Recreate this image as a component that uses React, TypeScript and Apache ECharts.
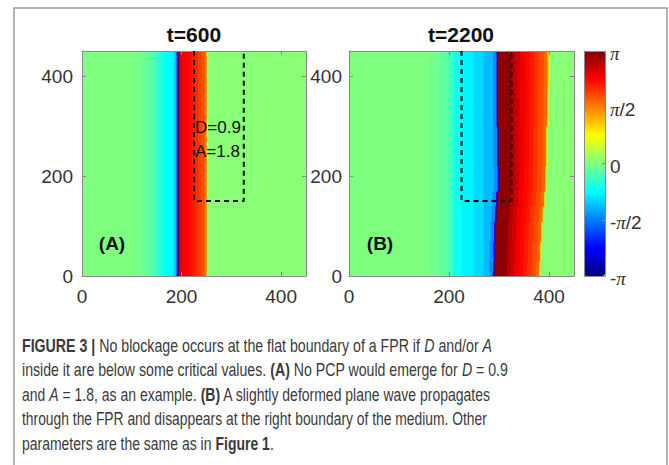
import React, { useEffect, useRef } from 'react';
import * as echarts from 'echarts';

const PI = Math.PI;

// ---------- DATA (phase values, radians) ----------
// Panel A (t=600): vertical stripes [x0, x1, phase], identical for every row
const A_STRIPES: number[][] = [
  [0, 106, 0],
  [106, 118, -0.06],
  [118, 130, -0.12],
  [130, 143, -0.22],
  [143, 151, -0.36],
  [151, 158, -0.5],
  [158, 166, -0.65],
  [166, 183, -0.8],
  [183, 188, -1.0],
  [188, 190.5, -1.5],
  [190.5, 192.5, -2.2],
  [192.5, 194, -2.8],
  [194, 199, 2.65],
  [199, 205, 2.45],
  [205, 212, 2.38],
  [212, 220, 2.3],
  [220, 227, 2.2],
  [227, 233, 2.1],
  [233, 240, 1.98],
  [240, 247, 1.85],
  [247, 251, 1.5],
  [251, 253, 0.8],
  [253, 450, 0.06],
];

// Panel B (t=2200): rows [y0, y1, front x, right edge x]
const B_ROWS: number[][] = [
  [0, 30, 291, 383],
  [30, 70, 292, 385],
  [70, 110, 293, 387],
  [110, 140, 295, 390],
  [140, 170, 297, 393],
  [170, 220, 300, 395],
  [220, 300, 299, 397],
  [300, 380, 298, 399],
  [380, 450, 298, 400],
];
// left (unperturbed) part of panel B: [x0, x1, phase]
const B_LEFT: number[][] = [
  [0, 160, 0],
  [160, 182, -0.08],
  [182, 199, -0.2],
  [199, 209, -0.4],
  [209, 226, -0.7],
  [226, 249, -0.85],
  [249, 269, -1.0],
];
// blue tail just behind the front: [offset before front (from), (to), phase]
const B_TAIL: number[][] = [
  [-1, 10, -1.2],
  [10, 3, -1.5],
  [3, 0, -2.5],
];
// red wave body between front and right edge: [fraction from, fraction to, phase]
const B_BODY: number[][] = [
  [0, 0.27, 3.05],
  [0.27, 0.35, 2.8],
  [0.35, 0.43, 2.65],
  [0.43, 0.53, 2.45],
  [0.53, 0.62, 2.32],
  [0.62, 0.71, 2.2],
  [0.71, 0.8, 2.05],
  [0.8, 0.9, 1.9],
  [0.9, 0.97, 1.72],
  [0.97, 1.0, 1.0],
];
const B_RIGHT_PHASE = 0.06;

// FPR outline (dashed)
const FPR_OUTLINE: number[][] = [
  [225, 450],
  [225, 150],
  [325, 150],
  [325, 450],
];

const X_TICKS = [0, 200, 400];
const CBAR_LABELS = ['-π', '-π/2', '0', 'π/2', 'π'];
const JET = ['#00007F', '#0000FF', '#007FFF', '#00FFFF', '#7FFF7F', '#FFFF00', '#FF7F00', '#FF0000', '#7F0000'];

const TITLES = ['t=600', 't=2200'];
const PANEL_LABELS = ['(A)', '(B)'];
const ANNOT = ['D=0.9', 'A=1.8'];

type Seg = [string, string];
const CAPTION_LINES: Seg[][] = [
  [['b', 'FIGURE 3 |'], ['n', ' No blockage occurs at the flat boundary of a FPR if '], ['i', 'D'], ['n', ' and/or '], ['i', 'A']],
  [['n', 'inside it are below some critical values. '], ['b', '(A)'], ['n', ' No PCP would emerge for '], ['i', 'D'], ['n', ' = 0.9']],
  [['n', 'and '], ['i', 'A'], ['n', ' = 1.8, as an example. '], ['b', '(B)'], ['n', ' A slightly deformed plane wave propagates']],
  [['n', 'through the FPR and disappears at the right boundary of the medium. Other']],
  [['n', 'parameters are the same as in '], ['b', 'Figure 1'], ['n', '.']],
];

// ---------- LAYOUT ----------
const FONT = '"Liberation Sans", Arial, Helvetica, sans-serif';
const CAP_FONT_SIZE = 18.5;
const CAP_LEFT = 22;
const CAP_RIGHT = [492, 508, 492, 487, 274];
const CAP_Y = [345, 369.5, 394, 418.5, 443];

function buildA(): number[][] {
  return A_STRIPES.map(([x0, x1, v]) => [x0, x1, 0, 450, v]);
}

function buildB(): number[][] {
  const out: number[][] = [];
  B_ROWS.forEach(([y0, y1, f, e]) => {
    B_LEFT.forEach(([x0, x1, v]) => out.push([x0, x1, y0, y1, v]));
    B_TAIL.forEach(([a, b, v]) => {
      const x0 = a < 0 ? B_LEFT[B_LEFT.length - 1][1] : f - a;
      out.push([x0, f - b, y0, y1, v]);
    });
    B_BODY.forEach(([a, b, v]) => out.push([f + a * (e - f), f + b * (e - f), y0, y1, v]));
    out.push([e, 450, y0, y1, B_RIGHT_PHASE]);
  });
  return out;
}

function fontFor(k: string) {
  if (k === 'b') return `bold ${CAP_FONT_SIZE}px ${FONT}`;
  if (k === 'i') return `italic ${CAP_FONT_SIZE}px ${FONT}`;
  return `${CAP_FONT_SIZE}px ${FONT}`;
}

function captionElements() {
  const canvas = document.createElement('canvas');
  const ctx = canvas.getContext('2d') as CanvasRenderingContext2D;
  return CAPTION_LINES.map((segs, i) => {
    let w = 0;
    segs.forEach(([k, t]) => {
      ctx.font = fontFor(k);
      w += ctx.measureText(t).width;
    });
    const scale = w > 0 ? (CAP_RIGHT[i] - CAP_LEFT) / w : 1;
    const text = segs.map(([k, t]) => `{${k}|${t}}`).join('');
    return {
      type: 'text',
      x: CAP_LEFT,
      y: CAP_Y[i],
      scaleX: scale,
      silent: true,
      style: {
        text,
        align: 'left',
        verticalAlign: 'middle',
        fontFamily: FONT,
        fontSize: CAP_FONT_SIZE,
        fill: '#3a3a3a',
        rich: {
          n: { fontFamily: FONT, fontSize: CAP_FONT_SIZE, color: '#3a3a3a' },
          b: { fontFamily: FONT, fontSize: CAP_FONT_SIZE, fontWeight: 'bold', color: '#222' },
          i: { fontFamily: FONT, fontSize: CAP_FONT_SIZE, fontStyle: 'italic', color: '#3a3a3a' },
        },
      },
    };
  });
}

const AX_COLOR = '#8a8a8a';
const LABEL_COLOR = '#333';

function xAxes(gridIndex: number, withLabels: boolean) {
  const base = {
    gridIndex,
    type: 'value',
    min: 0,
    max: 450,
    interval: 200,
    z: 5,
    axisLine: { show: true, onZero: false, lineStyle: { color: AX_COLOR, width: 1 } },
    axisTick: { show: true, inside: true, length: 4, lineStyle: { color: AX_COLOR } },
    splitLine: { show: false },
  };
  return [
    {
      ...base,
      position: 'bottom',
      axisLabel: {
        show: withLabels,
        margin: 11,
        fontSize: 19,
        fontFamily: FONT,
        color: LABEL_COLOR,
        formatter: (v: number) => (X_TICKS.includes(v) ? String(v) : ''),
      },
    },
    { ...base, position: 'top', axisLabel: { show: false } },
  ];
}

function yAxes(gridIndex: number, margin: number) {
  const base = {
    gridIndex,
    type: 'value',
    min: 0,
    max: 450,
    interval: 200,
    z: 5,
    axisLine: { show: true, onZero: false, lineStyle: { color: AX_COLOR, width: 1 } },
    axisTick: { show: true, inside: true, length: 4, lineStyle: { color: AX_COLOR } },
    splitLine: { show: false },
  };
  return [
    {
      ...base,
      position: 'left',
      axisLabel: {
        margin,
        fontSize: 19,
        fontFamily: FONT,
        color: LABEL_COLOR,
        formatter: (v: number) => (X_TICKS.includes(v) ? String(v) : ''),
      },
    },
    { ...base, position: 'right', axisLabel: { show: false } },
  ];
}

const renderCell = (params: any, api: any) => {
  const p0 = api.coord([api.value(0), api.value(3)]);
  const p1 = api.coord([api.value(1), api.value(2)]);
  return {
    type: 'rect',
    shape: { x: p0[0], y: p0[1], width: p1[0] - p0[0] + 0.7, height: p1[1] - p0[1] + 0.7 },
    style: { fill: api.visual('color') },
  };
};

function buildOption() {
  const lineStyle = { color: '#000', width: 2, type: [5, 4] };
  return {
    animation: false,
    grid: [
      { left: 82, top: 51, width: 224, height: 225 },
      { left: 349, top: 51, width: 225, height: 225 },
      { left: 584, top: 51, width: 21, height: 225 },
    ],
    xAxis: [
      ...xAxes(0, true),
      ...xAxes(1, true),
      {
        gridIndex: 2, type: 'value', min: 0, max: 1, position: 'bottom', z: 5,
        axisLine: { show: true, onZero: false, lineStyle: { color: AX_COLOR } },
        axisTick: { show: false }, axisLabel: { show: false }, splitLine: { show: false },
      },
      {
        gridIndex: 2, type: 'value', min: 0, max: 1, position: 'top', z: 5,
        axisLine: { show: true, onZero: false, lineStyle: { color: AX_COLOR } },
        axisTick: { show: false }, axisLabel: { show: false }, splitLine: { show: false },
      },
    ],
    yAxis: [
      ...yAxes(0, 9),
      ...yAxes(1, 7),
      {
        gridIndex: 2, type: 'value', min: 0, max: 1, position: 'left', z: 5,
        axisLine: { show: true, onZero: false, lineStyle: { color: AX_COLOR } },
        axisTick: { show: false }, axisLabel: { show: false }, splitLine: { show: false },
      },
      {
        gridIndex: 2, type: 'category', data: CBAR_LABELS, boundaryGap: false, position: 'right', z: 5,
        axisLine: { show: true, onZero: false, lineStyle: { color: AX_COLOR } },
        axisTick: { show: true, inside: true, length: 3, lineStyle: { color: AX_COLOR } },
        splitLine: { show: false },
        axisLabel: {
          margin: 5,
          fontSize: 19,
          fontFamily: FONT,
          color: LABEL_COLOR,
          interval: 0,
          padding: [5, 0, 0, 0],
          formatter: (s: string) => s.replace('π', '{p|π}'),
          rich: {
            p: { fontFamily: '"Liberation Serif", "Times New Roman", serif', fontStyle: 'italic', fontSize: 19, color: LABEL_COLOR },
          },
        },
      },
    ],
    visualMap: {
      type: 'continuous',
      min: -PI,
      max: PI,
      dimension: 4,
      seriesIndex: [0, 1],
      inRange: { color: JET },
      left: 584,
      top: 51,
      itemWidth: 21,
      itemHeight: 225,
      padding: 0,
      calculable: false,
      hoverLink: false,
      z: 4,
    },
    series: [
      {
        type: 'custom', xAxisIndex: 0, yAxisIndex: 0, data: buildA(), renderItem: renderCell,
        clip: true, silent: true, encode: { x: [0, 1], y: [2, 3] }, z: 2,
      },
      {
        type: 'custom', xAxisIndex: 2, yAxisIndex: 2, data: buildB(), renderItem: renderCell,
        clip: true, silent: true, encode: { x: [0, 1], y: [2, 3] }, z: 2,
      },
      {
        type: 'line', xAxisIndex: 0, yAxisIndex: 0, data: FPR_OUTLINE, symbol: 'none',
        lineStyle, z: 6, silent: true,
      },
      {
        type: 'line', xAxisIndex: 2, yAxisIndex: 2, data: FPR_OUTLINE, symbol: 'none',
        lineStyle, z: 6, silent: true,
      },
    ],
    graphic: [
      {
        type: 'rect', silent: true, z: 0,
        shape: { x: 14, y: 8, width: 653, height: 480 },
        style: { fill: 'none', stroke: '#9a9a9a', lineWidth: 1.5 },
      },
      {
        type: 'text', x: 194, y: 34.5, silent: true,
        style: { text: TITLES[0], align: 'center', verticalAlign: 'middle', fontFamily: FONT, fontSize: 21, fontWeight: 'bold', fill: '#111' },
      },
      {
        type: 'text', x: 461, y: 34.5, silent: true,
        style: { text: TITLES[1], align: 'center', verticalAlign: 'middle', fontFamily: FONT, fontSize: 21, fontWeight: 'bold', fill: '#111' },
      },
      {
        type: 'text', x: 112, y: 243, silent: true, z: 10,
        style: { text: PANEL_LABELS[0], align: 'center', verticalAlign: 'middle', fontFamily: FONT, fontSize: 19, fontWeight: 'bold', fill: '#111' },
      },
      {
        type: 'text', x: 380, y: 243, silent: true, z: 10,
        style: { text: PANEL_LABELS[1], align: 'center', verticalAlign: 'middle', fontFamily: FONT, fontSize: 19, fontWeight: 'bold', fill: '#111' },
      },
      {
        type: 'text', x: 195, y: 127, silent: true, z: 10,
        style: { text: ANNOT[0], align: 'left', verticalAlign: 'middle', fontFamily: FONT, fontSize: 17, fill: '#111' },
      },
      {
        type: 'text', x: 195, y: 151, silent: true, z: 10,
        style: { text: ANNOT[1], align: 'left', verticalAlign: 'middle', fontFamily: FONT, fontSize: 17, fill: '#111' },
      },
      ...captionElements(),
    ],
  };
}

export default function App() {
  const ref = useRef<HTMLDivElement>(null);
  useEffect(() => {
    if (!ref.current) return;
    const chart = echarts.init(ref.current, null, { renderer: 'svg' });
    chart.setOption(buildOption() as any);
    return () => chart.dispose();
  }, []);
  return (
    <div
      ref={ref}
      style={{ position: 'absolute', left: 0, top: 0, width: 669, height: 465, background: '#fff' }}
    />
  );
}
